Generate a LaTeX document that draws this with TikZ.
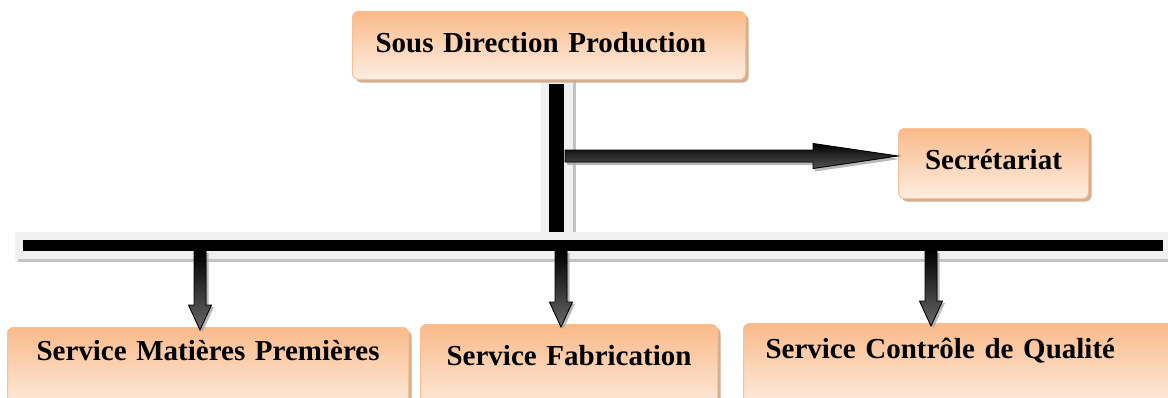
\documentclass[tikz,border=0pt]{standalone}
\usepackage{fontspec}
\setmainfont{Liberation Serif}
\usetikzlibrary{shadows,calc}
\definecolor{boxedge}{RGB}{250,192,145}
\definecolor{boxtop}{RGB}{249,186,138}
\definecolor{boxmid}{RGB}{252,222,200}
\definecolor{boxbot}{RGB}{253,238,226}
\definecolor{boxshadow}{RGB}{205,165,135}
\definecolor{framefill}{RGB}{240,240,240}
\definecolor{frameshadow}{RGB}{195,195,195}
\definecolor{arrowgray}{RGB}{105,105,105}
\newcommand\downarr[2]{%
  \filldraw[arrowstyle] let \p1=(#1), \p2=(#2) in
    (\x1-6pt,\y1) -- (\x1+6pt,\y1) -- (\x1+6pt,\y2+22pt) -- (\x1+11.5pt,\y2+22pt)
    -- (\x1,\y2-3pt) -- (\x1-11.5pt,\y2+22pt) -- (\x1-6pt,\y2+22pt) -- cycle;}
\begin{document}
\begin{tikzpicture}[x=1pt,y=-1pt,
  orgbox/.style={draw=boxedge, line width=1pt, rounded corners=6pt,
    top color=boxtop, middle color=boxmid, bottom color=boxbot,
    drop shadow={shadow xshift=3pt, shadow yshift=-3pt, fill=boxshadow, opacity=0.9},
    font=\fontsize{29pt}{34pt}\selectfont\bfseries, inner ysep=0pt, anchor=north west},
  framebox/.style={fill=framefill},
  frameshade/.style={fill=frameshadow},
  blackbar/.style={draw=black},
  arrowstyle/.style={draw=black, line width=0.9pt, top color=black, bottom color=arrowgray,
    drop shadow={shadow xshift=2.5pt, shadow yshift=-2pt, fill=gray!70, opacity=0.8}},
  harrowstyle/.style={draw=black, line width=0.9pt, top color=black, bottom color=arrowgray!80!black,
    drop shadow={shadow xshift=2pt, shadow yshift=-3pt, fill=gray!70, opacity=0.8}}]
\useasboundingbox (0,0) rectangle (1168,397);

% frames behind the bars
\fill[frameshade] (18,236) rectangle (1175,262);
\fill[frameshade] (544,80) rectangle (575.5,232);
\fill[framebox] (541,77) rectangle (573,232);
\fill[framebox] (15,232) rectangle (1175,258.5);

% nodes
\node[orgbox, text width=347pt, inner xsep=23pt, align=left, text height=41pt, text depth=27pt]
  (sdp) at (352,11) {Sous Direction Production};
\node[orgbox, text width=170pt, inner xsep=10pt, align=center, text height=41pt, text depth=29pt]
  (sec) at (898,128) {Secrétariat};
\node[orgbox, text width=381pt, inner xsep=10pt, align=center, text height=33pt, text depth=50pt]
  (s1) at (7,327) {Service Matières Premières};
\node[orgbox, text width=277pt, inner xsep=10pt, align=center, text height=41pt, text depth=50pt]
  (s2) at (420,324) {Service Fabrication};
\node[orgbox, text width=396pt, inner xsep=22pt, align=left, text height=35pt, text depth=50pt]
  (s3) at (743,323) {Service Contrôle de Qualité};

% coordinates of the bars
\coordinate (vtop) at (556.5,84);
\coordinate (vbot) at (556.5,232);
\coordinate (busL) at (23,245.5);
\coordinate (busR) at (1163,245.5);
\coordinate (hstart) at (565,156);
\coordinate (d1) at (200,251);
\coordinate (d2) at (561,251);
\coordinate (d3) at (931,251);

% black bars
\draw[blackbar, line width=15pt] (vtop) -- (vbot);
\draw[blackbar, line width=11pt] (busL) -- (busR);

% horizontal arrow to Secrétariat
\filldraw[harrowstyle] let \p1=(hstart), \p2=(sec.west) in
  (\x1,\y1+6pt) -- (\x2-85pt,\y1+6pt) -- (\x2-85pt,\y1+12.5pt) -- (\x2,\y1)
  -- (\x2-85pt,\y1-12.5pt) -- (\x2-85pt,\y1-6pt) -- (\x1,\y1-6pt) -- cycle;

% downward arrows
\downarr{d1}{s1.north}
\downarr{d2}{s2.north}
\downarr{d3}{s3.north}
\end{tikzpicture}
\end{document}
